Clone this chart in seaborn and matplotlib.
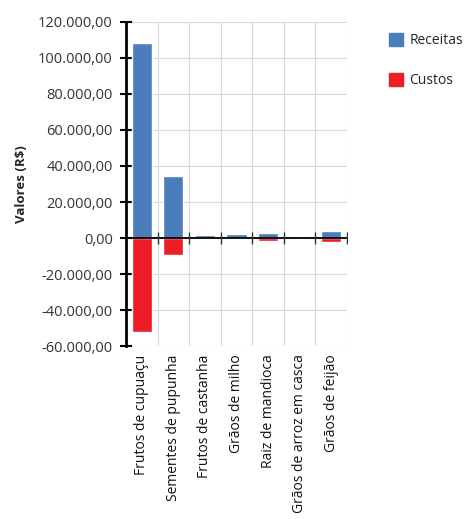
import numpy as np
import pandas as pd
import matplotlib
matplotlib.use('Agg')
import matplotlib.pyplot as plt
import matplotlib.patches as mpatches
from matplotlib.ticker import FuncFormatter, MultipleLocator
import seaborn as sns

categorias = ['Frutos de cupuaçu', 'Sementes de pupunha', 'Frutos de castanha',
              'Grãos de milho', 'Raiz de mandioca', 'Grãos de arroz em casca',
              'Grãos de feijão']
receitas = [108500, 34200, 1500, 2000, 2600, 200, 3900]
custos = [-52000, -9500, -400, -500, -1400, -600, -2300]

cor_receitas = '#4a7ebb'
cor_custos = '#ee1c25'

sns.set_style('white')
plt.rcParams['font.family'] = ['Open Sans', 'DejaVu Sans']

df = pd.DataFrame({'cat': categorias, 'Receitas': receitas, 'Custos': custos})

fig = plt.figure(figsize=(4.72, 5.19), dpi=100)
ax = fig.add_axes([0.267, 0.333, 0.468, 0.625])

sns.barplot(data=df, x='cat', y='Receitas', color=cor_receitas, width=0.64,
            saturation=1, ax=ax, zorder=3)
sns.barplot(data=df, x='cat', y='Custos', color=cor_custos, width=0.64,
            saturation=1, ax=ax, zorder=3)

ax.set_ylim(-60000, 120000)
ax.set_xlim(-0.5, len(categorias) - 0.5)
ax.yaxis.set_major_locator(MultipleLocator(20000))

def fmt(v, pos):
    s = f'{abs(v):,.2f}'.replace(',', 'X').replace('.', ',').replace('X', '.')
    return ('-' if v < 0 else '') + s

ax.yaxis.set_major_formatter(FuncFormatter(fmt))

# grid
for y in np.arange(-60000, 120001, 20000):
    ax.axhline(y, color='#d9d9d9', lw=0.8, zorder=0)
bounds = [i - 0.5 for i in range(len(categorias) + 1)]
for b in bounds:
    ax.axvline(b, color='#d9d9d9', lw=0.8, zorder=0)

# zero line with boundary ticks
ax.axhline(0, color='black', lw=1.3, zorder=4)
ax.plot(bounds[1:], [0] * (len(bounds) - 1), ls='none', marker='|',
        ms=8, mew=1, color='#333333', zorder=4)

for s in ['top', 'right', 'bottom']:
    ax.spines[s].set_visible(False)
ax.spines['left'].set_linewidth(2)
ax.spines['left'].set_color('black')
ax.spines['left'].set_zorder(5)

ax.tick_params(axis='y', direction='inout', length=9, width=1.5, color='black',
               labelsize=10.5, labelcolor='#333333', pad=5, left=True)
ax.tick_params(axis='x', length=0, labelsize=10, labelcolor='#111111', pad=6)
ax.set_xticks(range(len(categorias)))
ax.set_xticklabels(categorias, rotation=90)
ax.set_xlabel('')
ax.set_ylabel('Valores (R$)', fontsize=9.5, fontweight='bold', labelpad=7)

handles = [mpatches.Patch(color=cor_receitas, label='Receitas'),
           mpatches.Patch(color=cor_custos, label='Custos')]
fig.legend(handles=handles, loc='upper left', bbox_to_anchor=(0.797, 0.96),
           frameon=False, fontsize=10, handlelength=1.0, handleheight=1.0,
           labelspacing=1.8, handletextpad=0.5)

fig.savefig('out.png', dpi=100)
